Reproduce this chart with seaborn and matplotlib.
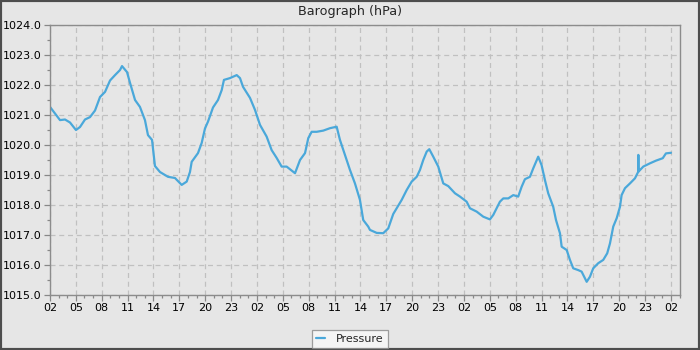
import matplotlib
matplotlib.use("Agg")
import matplotlib.dates as mdates
import matplotlib.pyplot as plt
import pandas as pd
import seaborn as sns
from matplotlib.patches import Rectangle

# hours after the first 02:00 reading, and pressure in hPa
hours = [
    0.0, 1.16, 1.74, 2.32, 3.01, 3.48, 4.06, 4.64, 5.22, 5.80, 6.38, 6.96, 7.54,
    8.12, 8.35, 8.93, 9.28, 9.86, 10.43, 11.01, 11.36, 11.83, 12.17, 12.75,
    13.68, 14.49, 15.27, 15.85, 16.23, 16.43, 17.16, 17.59, 17.97, 18.32, 18.9,
    19.48, 19.91, 20.17, 20.87, 21.65, 22.03, 22.38, 23.19, 23.77, 24.35, 25.12,
    25.7, 26.28, 26.86, 27.44, 28.41, 28.99, 29.57, 29.95, 30.34, 30.92, 31.69,
    32.46, 33.24, 33.62, 34.2, 34.78, 35.36, 35.94, 36.32, 36.9, 37.1, 37.88,
    38.64, 39.22, 39.8, 40.78, 41.36, 41.94, 42.52, 42.9, 43.28, 43.68, 43.98,
    44.44, 45.02, 45.6, 46.18, 46.96, 47.54, 48.31, 48.7, 49.47, 50.24, 51.01,
    51.4, 51.79, 52.17, 52.56, 53.14, 53.72, 54.29, 54.69, 55.07, 55.65, 56.03,
    56.61, 57.0, 57.39, 57.77, 58.35, 58.67, 59.13, 59.33, 59.91, 60.29, 60.67,
    61.25, 61.64, 62.23, 62.61, 62.99, 63.57, 64.15, 64.61, 64.93, 65.31, 65.71,
    66.09, 66.28, 66.67, 67.25, 67.83, 68.21, 68.22, 68.23, 68.79, 69.57, 70.28,
    71.05, 71.42, 72.0,
]
pressure = [
    1021.27, 1020.83, 1020.85, 1020.75, 1020.5, 1020.6, 1020.85, 1020.93,
    1021.15, 1021.6, 1021.77, 1022.15, 1022.33, 1022.5, 1022.63, 1022.43,
    1022.07, 1021.5, 1021.27, 1020.83, 1020.33, 1020.17, 1019.3, 1019.1,
    1018.94, 1018.9, 1018.67, 1018.78, 1019.1, 1019.44, 1019.73, 1020.07,
    1020.55, 1020.78, 1021.25, 1021.5, 1021.83, 1022.17, 1022.23, 1022.33,
    1022.23, 1021.94, 1021.57, 1021.17, 1020.67, 1020.28, 1019.83, 1019.57,
    1019.28, 1019.28, 1019.06, 1019.5, 1019.73, 1020.23, 1020.44, 1020.44,
    1020.48, 1020.56, 1020.61, 1020.17, 1019.67, 1019.17, 1018.72, 1018.17,
    1017.5, 1017.28, 1017.17, 1017.07, 1017.06, 1017.22, 1017.7, 1018.17,
    1018.5, 1018.78, 1018.94, 1019.17, 1019.5, 1019.78, 1019.86, 1019.61,
    1019.28, 1018.72, 1018.63, 1018.39, 1018.28, 1018.11, 1017.89, 1017.78,
    1017.61, 1017.52, 1017.67, 1017.89, 1018.11, 1018.22, 1018.22, 1018.33,
    1018.28, 1018.61, 1018.86, 1018.94, 1019.22, 1019.61, 1019.33, 1018.83,
    1018.39, 1017.94, 1017.5, 1017.06, 1016.61, 1016.5, 1016.17, 1015.89,
    1015.83, 1015.78, 1015.44, 1015.61, 1015.89, 1016.06, 1016.17, 1016.39,
    1016.72, 1017.28, 1017.56, 1017.94, 1018.33, 1018.56, 1018.72, 1018.89,
    1019.11, 1019.67, 1019.11, 1019.28, 1019.39, 1019.48, 1019.56, 1019.72,
    1019.74,
]

start = pd.Timestamp("2024-01-01 02:00")
df = pd.DataFrame({
    "time": start + pd.to_timedelta(hours, unit="h"),
    "pressure": pressure,
    "series": "Pressure",
})

bg = "#e6e6e6"
sns.set_theme(style="white")
plt.rcParams["font.family"] = ["DejaVu Sans"]

fig = plt.figure(figsize=(7, 3.5), dpi=100, facecolor=bg)
ax = fig.add_axes([50 / 700, 55 / 350, 630 / 700, 270 / 350])
ax.set_facecolor(bg)

sns.lineplot(data=df, x="time", y="pressure", hue="series", palette=["#4aa8da"],
             linewidth=1.6, ax=ax, estimator=None, sort=False)

ax.set_xlim(start, start + pd.Timedelta(hours=73.05))
ax.set_ylim(1015, 1024)
ax.set_yticks(range(1015, 1025))
ax.set_yticks([v + 0.5 for v in range(1015, 1024)], minor=True)
ax.yaxis.set_major_formatter(plt.FuncFormatter(lambda v, _: f"{v:.1f}"))
ax.xaxis.set_major_locator(mdates.HourLocator(byhour=range(2, 24, 3)))
ax.xaxis.set_minor_locator(mdates.HourLocator())
ax.xaxis.set_major_formatter(mdates.DateFormatter("%H"))

ax.grid(True, which="major", color="#c0c0c0", linestyle=(0, (4, 3)), linewidth=0.9)
ax.tick_params(which="major", direction="out", length=4, width=0.9, color="#888888",
               labelsize=8, labelcolor="black", pad=2, bottom=True, left=True)
ax.tick_params(which="minor", direction="out", length=2, width=0.9, color="#888888",
               bottom=True, left=True)
for side in ["left", "bottom", "top", "right"]:
    ax.spines[side].set_color("#8c8c8c")
    ax.spines[side].set_linewidth(1.0)
ax.set_xlabel("")
ax.set_ylabel("")

ax.legend_.remove()
handles, labels = ax.get_legend_handles_labels()
leg = fig.legend(handles, labels, loc="center", bbox_to_anchor=(350 / 700, 1 - 339 / 350),
                 frameon=True, fancybox=False, fontsize=8, handlelength=0.8,
                 borderpad=0.35, handletextpad=1.0, borderaxespad=0)
leg.get_frame().set_facecolor("#f8f8f8")
leg.get_frame().set_edgecolor("#888888")
leg.get_frame().set_linewidth(0.9)

fig.text(0.5, 1 - 12 / 350, "Barograph (hPa)", ha="center", va="center", fontsize=9.2)
fig.patches.append(Rectangle((0, 0), 1, 1, transform=fig.transFigure, fill=False,
                             edgecolor="#4d4d4d", linewidth=3))

fig.savefig("out.png", dpi=100, facecolor=bg)
plt.close(fig)
